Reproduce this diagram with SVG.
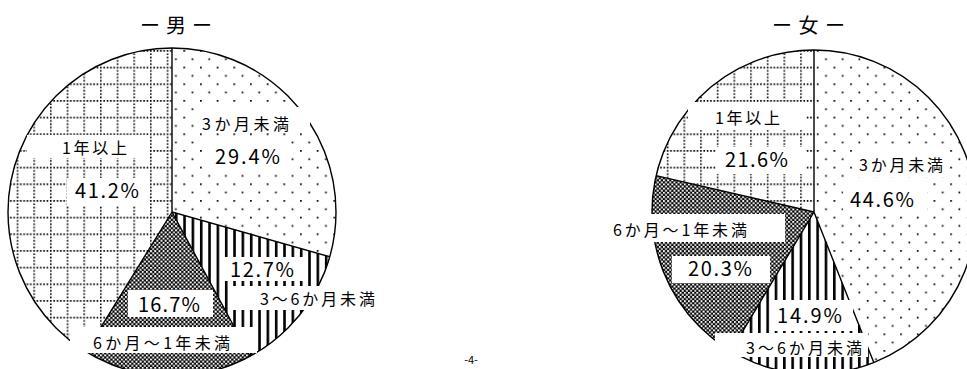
<svg xmlns="http://www.w3.org/2000/svg" width="967" height="369" viewBox="0 0 967 369">
<style>
.t{font-family:"Noto Sans CJK JP","Noto Sans",sans-serif;fill:#000}
.lbl{font-size:16px}
.pct{font-size:20px}
.ttl{font-size:20px}
.edge{fill:none;stroke:#000;stroke-width:1.4}
.box{fill:#fff}
</style>
<defs>
<pattern id="dots" width="16.67" height="16.67" patternUnits="userSpaceOnUse">
<rect width="16.67" height="16.67" fill="#fff"/>
<rect x="0" y="0" width="1.7" height="1.7" fill="#000"/>
<rect x="8.33" y="8.33" width="1.7" height="1.7" fill="#000"/>
</pattern>
<pattern id="grid" width="16.67" height="16.67" patternUnits="userSpaceOnUse">
<rect width="16.67" height="16.67" fill="#fff"/>
<path d="M0.8,0V16.67M0,0.8H16.67" stroke="#000" stroke-width="1.6" stroke-dasharray="1.6 1.73" fill="none"/>
</pattern>
<pattern id="vstripe" width="8.33" height="8" patternUnits="userSpaceOnUse">
<rect width="8.33" height="8" fill="#fff"/>
<rect width="2.6" height="8" fill="#000"/>
</pattern>
<pattern id="check" width="4.17" height="4.17" patternUnits="userSpaceOnUse">
<rect width="4.17" height="4.17" fill="#000"/>
<rect x="0" y="0" width="1.9" height="1.9" fill="#fff"/>
<rect x="2.08" y="2.08" width="1.9" height="1.9" fill="#fff"/>
</pattern>
</defs>
<rect width="967" height="369" fill="#fff"/>

<g id="male">
<text class="t ttl" x="140" y="33" textLength="72" lengthAdjust="spacing">ー男ー</text>
<g id="m-3m"><path d="M172,212L172,48A164,164 0 0 1 329.77,256.76Z" fill="url(#dots)"/></g>
<g id="m-3-6"><path d="M172,212L329.77,256.76A164,164 0 0 1 250.11,356.21Z" fill="url(#vstripe)"/></g>
<g id="m-6-12"><path d="M172,212L250.11,356.21A164,164 0 0 1 85.87,351.56Z" fill="url(#check)"/></g>
<g id="m-1y"><path d="M172,212L85.87,351.56A164,164 0 0 1 172,48Z" fill="url(#grid)"/></g>
<path class="edge" d="M172,48L172,212L329.77,256.76M172,212L250.11,356.21M172,212L85.87,351.56"/>
<circle class="edge" cx="172" cy="212" r="164"/>
<rect class="box" x="196" y="107" width="114" height="25"/>
<rect class="box" x="205" y="139" width="86" height="33"/>
<rect class="box" x="27" y="135" width="123" height="23"/>
<rect class="box" x="67" y="178" width="83" height="27"/>
<rect class="box" x="223" y="257" width="85" height="24"/>
<rect class="box" x="232" y="286" width="148" height="24"/>
<rect class="box" x="128" y="290" width="85" height="27"/>
<rect class="box" x="70" y="327" width="187" height="26"/>
<text class="t lbl" x="202" y="130" textLength="87" lengthAdjust="spacing">3か月未満</text>
<text class="t pct" x="215" y="164" textLength="65" lengthAdjust="spacing">29.4%</text>
<text class="t lbl" x="62" y="154" textLength="65" lengthAdjust="spacing">1年以上</text>
<text class="t pct" x="75" y="198" textLength="64" lengthAdjust="spacing">41.2%</text>
<text class="t pct" x="230" y="277" textLength="64" lengthAdjust="spacing">12.7%</text>
<text class="t lbl" x="260" y="305" textLength="115" lengthAdjust="spacing">3～6か月未満</text>
<text class="t pct" x="138" y="312" textLength="62" lengthAdjust="spacing">16.7%</text>
<text class="t lbl" x="93" y="349" textLength="137" lengthAdjust="spacing">6か月～1年未満</text>
</g>

<g id="female">
<text class="t ttl" x="772" y="33" textLength="73" lengthAdjust="spacing">ー女ー</text>
<g id="f-3m"><path d="M814,212L814,50A162,162 0 0 1 873.79,362.56Z" fill="url(#dots)"/></g>
<g id="f-3-6"><path d="M814,212L873.79,362.56A162,162 0 0 1 730.83,351.02Z" fill="url(#vstripe)"/></g>
<g id="f-6-12"><path d="M814,212L730.83,351.02A162,162 0 0 1 656.13,175.67Z" fill="url(#check)"/></g>
<g id="f-1y"><path d="M814,212L656.13,175.67A162,162 0 0 1 814,50Z" fill="url(#grid)"/></g>
<path class="edge" d="M814,50L814,212L873.79,362.56M814,212L730.83,351.02M814,212L656.13,175.67"/>
<circle class="edge" cx="814" cy="212" r="162"/>
<rect class="box" x="688" y="102" width="118" height="28"/>
<rect class="box" x="716" y="147" width="89" height="27"/>
<rect class="box" x="852" y="150" width="96" height="27"/>
<rect class="box" x="843" y="183" width="84" height="30"/>
<rect class="box" x="607" y="214" width="178" height="28"/>
<rect class="box" x="672" y="256" width="98" height="27"/>
<rect class="box" x="770" y="300" width="83" height="31"/>
<rect class="box" x="715" y="333" width="153" height="24"/>
<text class="t lbl" x="715" y="124" textLength="65" lengthAdjust="spacing">1年以上</text>
<text class="t pct" x="725" y="167" textLength="63" lengthAdjust="spacing">21.6%</text>
<text class="t lbl" x="859" y="171" textLength="84" lengthAdjust="spacing">3か月未満</text>
<text class="t pct" x="850" y="207" textLength="64" lengthAdjust="spacing">44.6%</text>
<text class="t lbl" x="613" y="236" textLength="134" lengthAdjust="spacing">6か月～1年未満</text>
<text class="t pct" x="688" y="276" textLength="64" lengthAdjust="spacing">20.3%</text>
<text class="t pct" x="777" y="323" textLength="65" lengthAdjust="spacing">14.9%</text>
<text class="t lbl" x="746" y="354" textLength="116" lengthAdjust="spacing">3～6か月未満</text>
</g>

<g id="connectors"></g>
<text class="t" x="471" y="364" font-size="11" text-anchor="middle">-4-</text>
</svg>
